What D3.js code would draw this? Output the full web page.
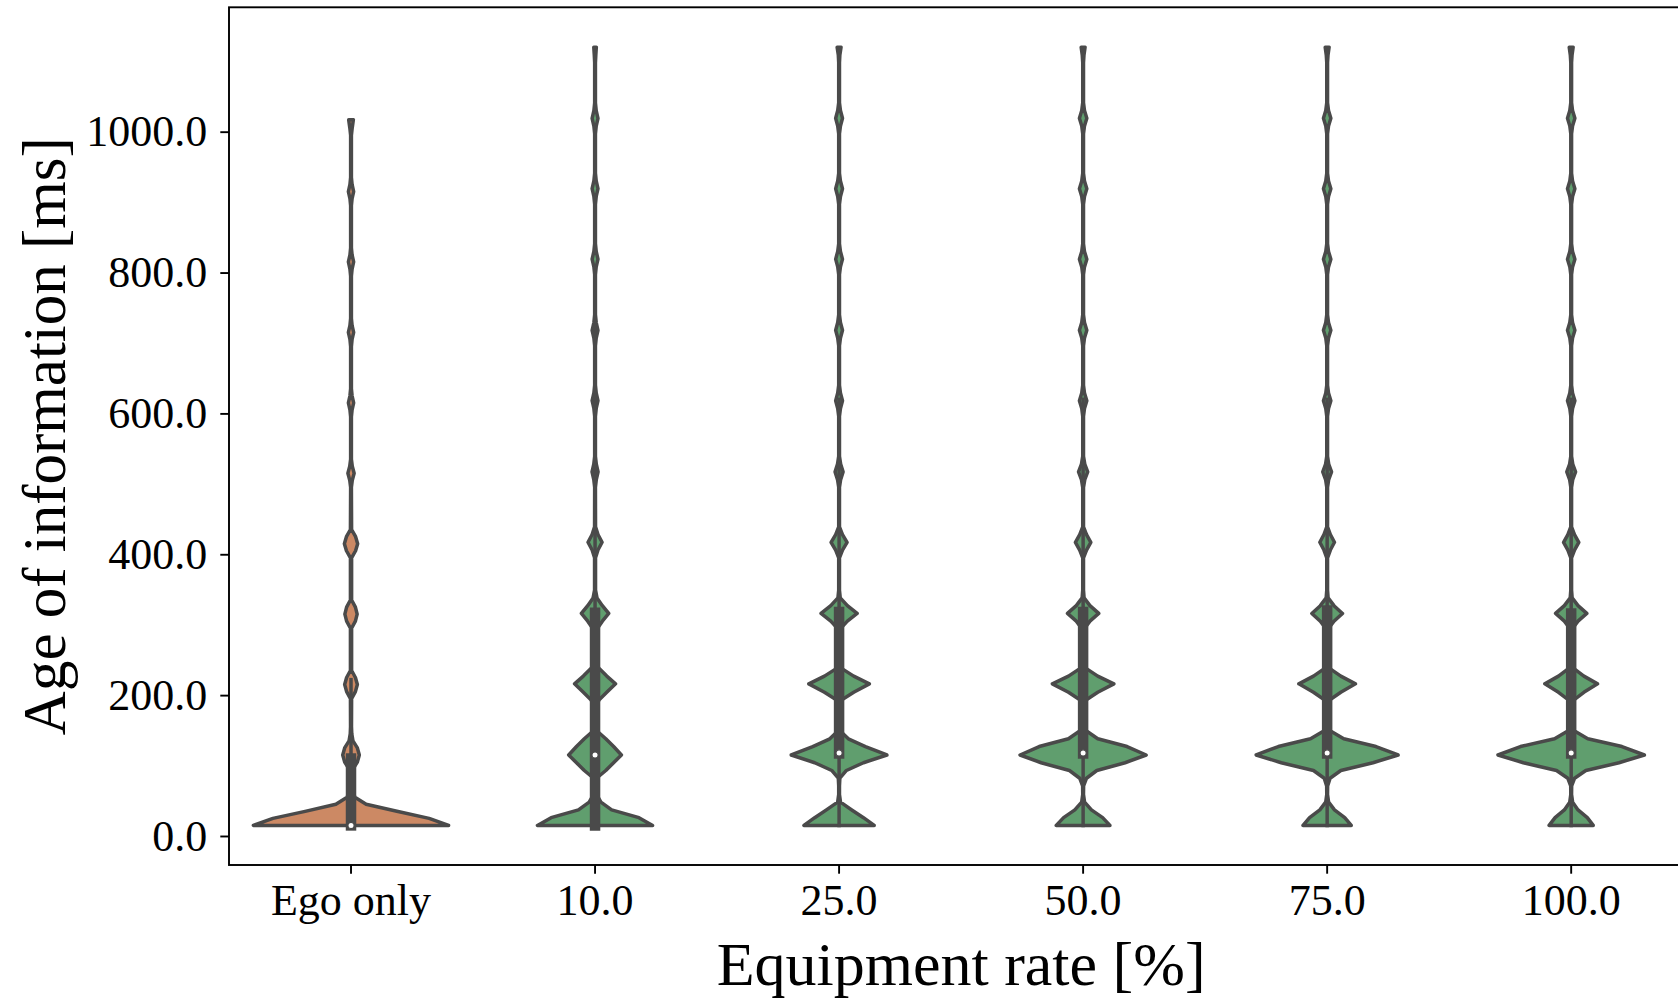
<!DOCTYPE html>
<html>
<head>
<meta charset="utf-8">
<script src="https://cdn.jsdelivr.net/npm/d3@7"></script>
<style>
  body { margin: 0; background: #fff; }
  text { font-family: "Liberation Serif", serif; fill: #000; }
</style>
</head>
<body>
<div id="chartDiv"></div>
<script>
'use strict';

const categories = ['Ego only', '10.0', '25.0', '50.0', '75.0', '100.0'];
const hue = ['ego', 'shared', 'shared', 'shared', 'shared', 'shared'];
const yTicks = [0, 200, 400, 600, 800, 1000];

// violin outlines: [age of information in ms, relative half width]
const densityEgo = [
    [15, 1.0], [25, 0.80], [35, 0.47], [45, 0.155], [55, 0.04], [65, 0.012], [75, 0.006],
    [85, 0.008], [95, 0.02], [105, 0.065], [115, 0.085], [125, 0.065], [135, 0.02], [145, 0.008], [155, 0.005],
    [195, 0.006], [205, 0.045], [215, 0.065], [225, 0.045], [235, 0.006],
    [295, 0.006], [305, 0.045], [315, 0.063], [325, 0.045], [335, 0.006],
    [395, 0.006], [405, 0.047], [415, 0.068], [425, 0.047], [435, 0.006],
    [495, 0.004], [505, 0.013], [515, 0.032], [525, 0.013], [535, 0.004],
    [595, 0.004], [605, 0.011], [615, 0.027], [625, 0.011], [635, 0.004],
    [695, 0.004], [705, 0.011], [715, 0.027], [725, 0.011], [735, 0.004],
    [795, 0.004], [805, 0.011], [815, 0.027], [825, 0.011], [835, 0.004],
    [895, 0.004], [905, 0.011], [915, 0.027], [925, 0.011], [935, 0.004],
    [995, 0.004], [1005, 0.012], [1017, 0.024]
];

const density10 = [
    [15, 0.59], [26, 0.45], [37, 0.17], [48, 0.06], [59, 0.015], [70, 0.006],
    [82, 0.015], [93, 0.11], [104, 0.19], [115, 0.27], [127, 0.19], [138, 0.11], [149, 0.02], [160, 0.006],
    [182, 0.006], [193, 0.04], [204, 0.12], [216, 0.21], [227, 0.12], [238, 0.04], [249, 0.006],
    [283, 0.006], [294, 0.02], [305, 0.075], [316, 0.14], [327, 0.075], [338, 0.02], [349, 0.005],
    [395, 0.005], [406, 0.03], [417, 0.072], [428, 0.03], [439, 0.005],
    [495, 0.004], [506, 0.013], [517, 0.031], [528, 0.013], [539, 0.004],
    [596, 0.004], [607, 0.012], [618, 0.03], [629, 0.012], [640, 0.004],
    [696, 0.004], [707, 0.012], [718, 0.03], [729, 0.012], [740, 0.004],
    [797, 0.004], [808, 0.012], [819, 0.03], [830, 0.012], [841, 0.004],
    [897, 0.004], [908, 0.012], [919, 0.03], [930, 0.012], [941, 0.004],
    [997, 0.004], [1008, 0.012], [1019, 0.03], [1030, 0.012], [1041, 0.004],
    [1098, 0.004], [1109, 0.008], [1120, 0.013]
];

const density25 = [
    [15, 0.36], [26, 0.25], [37, 0.13], [48, 0.015], [59, 0.004], [71, 0.004],
    [82, 0.008], [93, 0.075], [104, 0.25], [115, 0.49], [127, 0.27], [138, 0.095], [149, 0.012], [160, 0.004],
    [182, 0.004], [193, 0.025], [204, 0.15], [216, 0.31], [227, 0.15], [238, 0.025], [249, 0.004],
    [283, 0.004], [294, 0.012], [305, 0.085], [316, 0.185], [327, 0.085], [338, 0.012], [349, 0.004],
    [395, 0.004], [406, 0.035], [417, 0.082], [428, 0.035], [439, 0.004],
    [495, 0.004], [506, 0.016], [517, 0.041], [528, 0.016], [539, 0.004],
    [596, 0.004], [607, 0.014], [618, 0.035], [629, 0.014], [640, 0.004],
    [696, 0.004], [707, 0.014], [718, 0.035], [729, 0.014], [740, 0.004],
    [797, 0.004], [808, 0.014], [819, 0.035], [830, 0.014], [841, 0.004],
    [897, 0.004], [908, 0.014], [919, 0.035], [930, 0.014], [941, 0.004],
    [997, 0.004], [1008, 0.014], [1019, 0.035], [1030, 0.014], [1041, 0.004],
    [1098, 0.004], [1109, 0.008], [1120, 0.02]
];

const density50 = [
    [15, 0.275], [26, 0.2], [37, 0.085], [48, 0.015], [59, 0.004], [71, 0.005],
    [82, 0.035], [93, 0.14], [104, 0.43], [115, 0.646], [127, 0.45], [138, 0.15], [149, 0.035], [160, 0.005],
    [182, 0.004], [193, 0.03], [204, 0.15], [216, 0.315], [227, 0.15], [238, 0.03], [249, 0.004],
    [283, 0.004], [294, 0.01], [305, 0.07], [316, 0.16], [327, 0.07], [338, 0.01], [349, 0.004],
    [395, 0.004], [406, 0.035], [417, 0.079], [428, 0.035], [439, 0.004],
    [495, 0.004], [506, 0.017], [517, 0.047], [528, 0.017], [539, 0.004],
    [596, 0.004], [607, 0.014], [618, 0.038], [629, 0.014], [640, 0.004],
    [696, 0.004], [707, 0.014], [718, 0.038], [729, 0.014], [740, 0.004],
    [797, 0.004], [808, 0.014], [819, 0.038], [830, 0.014], [841, 0.004],
    [897, 0.004], [908, 0.014], [919, 0.038], [930, 0.014], [941, 0.004],
    [997, 0.004], [1008, 0.014], [1019, 0.038], [1030, 0.014], [1041, 0.004],
    [1098, 0.004], [1109, 0.009], [1120, 0.02]
];

const density75 = [
    [15, 0.247], [26, 0.18], [37, 0.075], [48, 0.015], [59, 0.004], [71, 0.005],
    [82, 0.03], [93, 0.14], [104, 0.47], [115, 0.727], [127, 0.5], [138, 0.17], [149, 0.035], [160, 0.005],
    [182, 0.004], [193, 0.025], [204, 0.14], [216, 0.29], [227, 0.14], [238, 0.025], [249, 0.004],
    [283, 0.004], [294, 0.01], [305, 0.07], [316, 0.157], [327, 0.07], [338, 0.01], [349, 0.004],
    [395, 0.004], [406, 0.033], [417, 0.075], [428, 0.033], [439, 0.004],
    [495, 0.004], [506, 0.016], [517, 0.045], [528, 0.016], [539, 0.004],
    [596, 0.004], [607, 0.014], [618, 0.038], [629, 0.014], [640, 0.004],
    [696, 0.004], [707, 0.014], [718, 0.038], [729, 0.014], [740, 0.004],
    [797, 0.004], [808, 0.014], [819, 0.038], [830, 0.014], [841, 0.004],
    [897, 0.004], [908, 0.014], [919, 0.038], [930, 0.014], [941, 0.004],
    [997, 0.004], [1008, 0.014], [1019, 0.038], [1030, 0.014], [1041, 0.004],
    [1098, 0.004], [1109, 0.009], [1120, 0.02]
];

const density100 = [
    [15, 0.226], [26, 0.165], [37, 0.07], [48, 0.015], [59, 0.004], [71, 0.005],
    [82, 0.035], [93, 0.15], [104, 0.49], [115, 0.75], [127, 0.52], [138, 0.17], [149, 0.035], [160, 0.005],
    [182, 0.004], [193, 0.025], [204, 0.13], [216, 0.27], [227, 0.13], [238, 0.025], [249, 0.004],
    [283, 0.004], [294, 0.01], [305, 0.07], [316, 0.16], [327, 0.07], [338, 0.01], [349, 0.004],
    [395, 0.004], [406, 0.034], [417, 0.078], [428, 0.034], [439, 0.004],
    [495, 0.004], [506, 0.016], [517, 0.045], [528, 0.016], [539, 0.004],
    [596, 0.004], [607, 0.014], [618, 0.038], [629, 0.014], [640, 0.004],
    [696, 0.004], [707, 0.014], [718, 0.038], [729, 0.014], [740, 0.004],
    [797, 0.004], [808, 0.014], [819, 0.038], [830, 0.014], [841, 0.004],
    [897, 0.004], [908, 0.014], [919, 0.038], [930, 0.014], [941, 0.004],
    [997, 0.004], [1008, 0.014], [1019, 0.038], [1030, 0.014], [1041, 0.004],
    [1098, 0.004], [1109, 0.009], [1120, 0.02]
];

const densities = [densityEgo, density10, density25, density50, density75, density100];

// inner box statistics (ms)
const q1 = [15, 15, 117, 117, 117, 117];
const medians = [15, 115, 118, 118, 118, 118];
const q3 = [110, 317, 318, 318, 320, 316];
const whiskerLow = [15, 15, 15, 15, 15, 15];
const whiskerHigh = [222, 740, 620, 620, 620, 620];

const GRAY = '#4a4a4a';
const LINE_WIDTH = 3.5;

const margin = { top: 7.3, right: -15.2, bottom: 135, left: 229 };
const width = 1678 - margin.left - margin.right;
const height = 1000 - margin.top - margin.bottom;

const svg = d3.select('#chartDiv')
    .append('svg')
    .attr('width', 1678)
    .attr('height', 1000)
    .style('background', '#fff');

const g = svg.append('g')
    .attr('transform', `translate(${margin.left},${margin.top})`);

const xScale = d3.scaleBand()
    .domain(categories)
    .range([0, width])
    .padding(0);

const yScale = d3.scaleLinear()
    .domain([-41.2, 1176.6])
    .range([height, 0]);

// half width of a violin, 0.8 of a band at its widest
const wScale = d3.scaleLinear()
    .domain([0, 1])
    .range([0, xScale.bandwidth() * 0.4]);

const color = d3.scaleOrdinal()
    .domain(['ego', 'shared'])
    .range(['#cc8964', '#609e6e']);

const violinArea = d3.area()
    .y(d => yScale(d[0]))
    .x0(d => -wScale(d[1]))
    .x1(d => wScale(d[1]));

const violins = g.selectAll('g.violin')
    .data(categories)
    .join('g')
    .attr('class', 'violin')
    .attr('transform', d => `translate(${xScale(d) + xScale.bandwidth() / 2},0)`);

violins.append('path')
    .attr('d', (d, i) => violinArea(densities[i]))
    .attr('fill', (d, i) => color(hue[i]))
    .attr('stroke', GRAY)
    .attr('stroke-width', LINE_WIDTH)
    .attr('stroke-linejoin', 'round');

// whiskers
violins.append('line')
    .attr('x1', 0).attr('x2', 0)
    .attr('y1', (d, i) => yScale(whiskerLow[i]))
    .attr('y2', (d, i) => yScale(whiskerHigh[i]))
    .attr('stroke', GRAY)
    .attr('stroke-width', LINE_WIDTH)
    .attr('stroke-linecap', 'square');

// interquartile box
violins.append('line')
    .attr('x1', 0).attr('x2', 0)
    .attr('y1', (d, i) => yScale(q1[i]))
    .attr('y2', (d, i) => yScale(q3[i]))
    .attr('stroke', GRAY)
    .attr('stroke-width', LINE_WIDTH * 3)
    .attr('stroke-linecap', 'square');

violins.append('circle')
    .attr('cx', 0)
    .attr('cy', (d, i) => yScale(medians[i]))
    .attr('r', 3.1)
    .attr('fill', '#fff')
    .attr('stroke', GRAY)
    .attr('stroke-width', 1.2);

// axes
const yAxis = g.append('g')
    .call(d3.axisLeft(yScale)
        .tickValues(yTicks)
        .tickFormat(d3.format('.1f'))
        .tickSizeInner(8.7)
        .tickSizeOuter(0)
        .tickPadding(13));

const xAxis = g.append('g')
    .attr('transform', `translate(0,${height})`)
    .call(d3.axisBottom(xScale)
        .tickSizeInner(8.7)
        .tickSizeOuter(0)
        .tickPadding(10));

[yAxis, xAxis].forEach(ax => {
    ax.select('.domain').remove();
    ax.selectAll('line').attr('stroke', '#000').attr('stroke-width', 1.9);
    ax.selectAll('text')
        .attr('fill', '#000')
        .style('font-family', '"Liberation Serif", serif')
        .style('font-size', '44px');
});

g.append('rect')
    .attr('width', width)
    .attr('height', height)
    .attr('fill', 'none')
    .attr('stroke', '#000')
    .attr('stroke-width', 1.9);

svg.append('text')
    .attr('transform', `translate(65,${margin.top + height / 2}) rotate(-90)`)
    .attr('text-anchor', 'middle')
    .style('font-size', '61px')
    .text('Age of information [ms]');

svg.append('text')
    .attr('x', margin.left + width / 2)
    .attr('y', 985)
    .attr('text-anchor', 'middle')
    .style('font-size', '62px')
    .text('Equipment rate [%]');
</script>
</body>
</html>
